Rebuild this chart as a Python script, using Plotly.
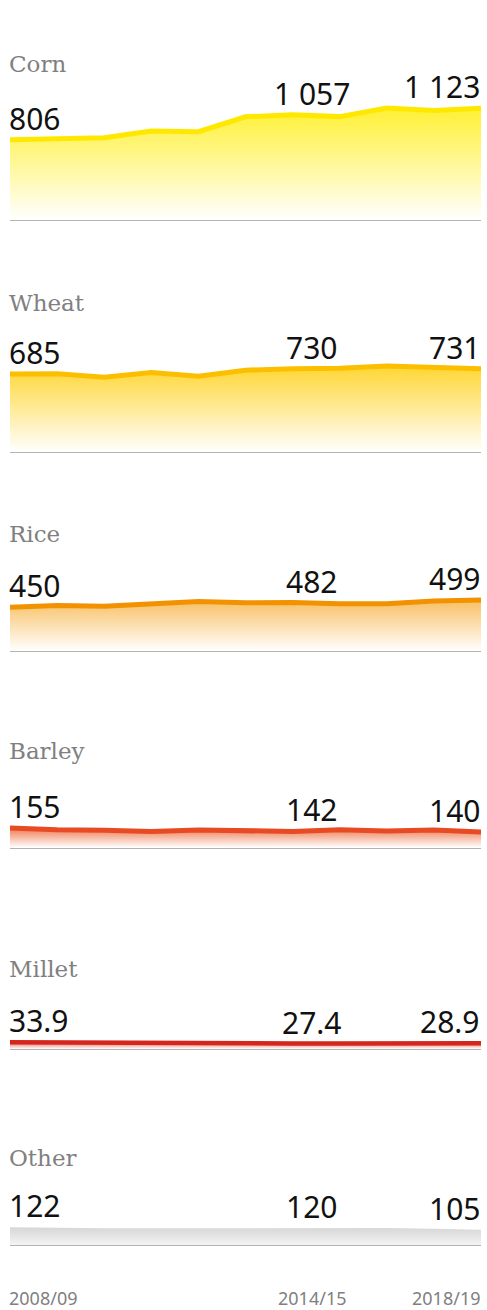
import plotly.graph_objects as go

W, H = 487, 1310

years = ["2008/09", "2009/10", "2010/11", "2011/12", "2012/13", "2013/14",
         "2014/15", "2015/16", "2016/17", "2017/18", "2018/19"]

corn = [806, 816, 826, 893, 886, 1036, 1057, 1038, 1125, 1100, 1123]
wheat = [685, 686, 656, 697, 665, 718, 730, 735, 754, 748, 731]
rice = [450, 461, 457, 474, 489, 481, 482, 474, 474, 492, 499]
barley = [155, 148, 146, 142, 147, 143, 142, 148, 143, 147, 140]
millet = [33.9, 32.0, 32.8, 30.5, 29.5, 29.0, 27.4, 28.0, 30.0, 28.6, 28.9]
other = [122, 117, 115, 115, 115, 119, 120, 119, 117, 112, 105]

crops = ["Corn", "Wheat", "Rice", "Barley", "Millet", "Other"]
series = [corn, wheat, rice, barley, millet, other]
tick_years = ["2008/09", "2014/15", "2018/19"]

# per panel: baseline pixel, value at baseline, pixels per unit, title baseline pixel
panels = [
    dict(base=220, lo=0, k=0.0996, title=73, line="#ffe800", top="#fff033", bottom="#ffffff", lw=5),
    dict(base=452, lo=0, k=0.114, title=311.5, line="#fcbf00", top="#ffd633", bottom="#ffffff", lw=5),
    dict(base=651, lo=150, k=0.146, title=543, line="#f39200", top="#f8c063", bottom="#ffffff", lw=5),
    dict(base=847.5, lo=80, k=0.26, title=760, line="#e84a23", top="#f07a50", bottom="#ffffff", lw=5),
    dict(base=1049, lo=0, k=0.2, title=978, line="#d4261c", top="#e87060", bottom="#ffffff", lw=4.5),
    dict(base=1245, lo=0, k=0.145, title=1167, line="rgba(0,0,0,0)", top="#d6d6d6", bottom="#f4f4f4", lw=0),
]

PANEL_H = 140


def py(px):
    return 1 - px / H


def fmt(v):
    if isinstance(v, float) and not v.is_integer():
        return str(v)
    return f"{int(v):,}".replace(",", " ")


fig = go.Figure()

for i, (name, vals, p) in enumerate(zip(crops, series, panels)):
    n = "" if i == 0 else str(i + 1)
    xa, ya = "x" + n, "y" + n

    fig.add_trace(go.Scatter(
        x=years,
        y=vals,
        xaxis=xa,
        yaxis=ya,
        mode="lines",
        line=dict(color=p["line"], width=p["lw"]),
        fill="tozeroy",
        fillgradient=dict(
            type="vertical",
            colorscale=[[0, p["bottom"]], [1, p["top"]]],
            start=p["lo"],
            stop=max(vals),
        ),
        hoverinfo="skip",
        showlegend=False,
    ))

    fig.update_layout(**{
        "xaxis" + n: dict(
            domain=[10 / W, 481 / W],
            anchor=ya,
            type="category",
            range=[0, 10],
            showline=True,
            linecolor="#b4b4b4",
            linewidth=1,
            showticklabels=False,
            showgrid=False,
            zeroline=False,
            ticks="",
        ),
        "yaxis" + n: dict(
            domain=[py(p["base"]), py(p["base"] - PANEL_H)],
            anchor=xa,
            range=[p["lo"], p["lo"] + PANEL_H / p["k"]],
            visible=False,
        ),
    })

    # crop name
    fig.add_annotation(
        text=name, xref="paper", yref="paper",
        x=7 / W, y=py(p["title"] + 6.4),
        xanchor="left", yanchor="bottom", showarrow=False,
        font=dict(family="DejaVu Serif", size=23, color="#808080"),
    )

    # first, middle and last values
    for j, anchor, shift in [(0, "left", -3), (6, "center", 19), (10, "right", 1)]:
        fig.add_annotation(
            text=fmt(vals[j]), xref=xa, yref=ya,
            x=years[j], y=vals[j],
            xanchor=anchor, yanchor="bottom", xshift=shift, yshift=-1,
            showarrow=False,
            font=dict(family="Noto Sans", size=30, color="#111111"),
        )

# year labels under the last panel
for yr, anchor, shift in zip(tick_years, ["left", "center", "right"], [-3, 19, 1]):
    fig.add_annotation(
        text=yr, xref="x6", yref="paper",
        x=yr, y=py(1306 + 6.3),
        xanchor=anchor, yanchor="bottom", xshift=shift,
        showarrow=False,
        font=dict(family="Noto Sans", size=18, color="#7f7f7f"),
    )

fig.update_layout(
    width=W,
    height=H,
    margin=dict(l=0, r=0, t=0, b=0),
    paper_bgcolor="white",
    plot_bgcolor="white",
    showlegend=False,
)

fig.write_html(
    "out.html",
    config={"displayModeBar": False},
    post_script="document.body.style.margin = '0';",
)
